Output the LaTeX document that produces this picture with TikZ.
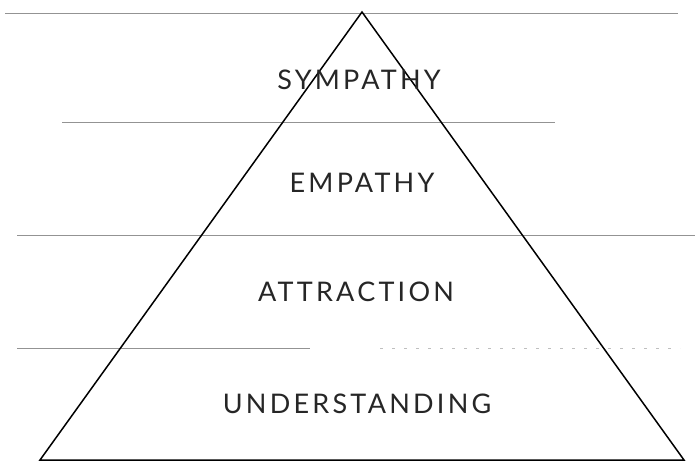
\documentclass[tikz,border=0pt]{standalone}
\usepackage{fontspec}
\setmainfont{Lato}[LetterSpace=12]
\usepackage{tikz}

\begin{document}
\begin{tikzpicture}[x=1pt,y=-1pt,
    rule/.style={gray!85, line width=1pt},
    level/.style={font=\fontsize{27}{30}\selectfont, text=black!85}]

\useasboundingbox (0,0) rectangle (695,464);

% horizontal rules
\draw[rule] (5,13) -- (678,13);
\draw[rule] (62,122) -- (555,122);
\draw[rule] (17,235) -- (695,235);
\draw[rule] (17,348) -- (310,348);
\draw[rule, dash pattern=on 3pt off 9pt, gray!50] (380,348) -- (680,348);

% pyramid
\coordinate (apex) at (362,12);
\coordinate (bl) at (40,460);
\coordinate (br) at (684,460);
\draw[line width=1.5pt, line join=miter] (apex) -- (br) -- (bl) -- cycle;

\node[level] (sympathy) at (359,80) {SYMPATHY};
\node[level] (empathy) at (362,183) {EMPATHY};
\node[level] (attraction) at (356,292) {ATTRACTION};
\node[level] (understanding) at (357,404) {UNDERSTANDING};

\end{tikzpicture}
\end{document}
